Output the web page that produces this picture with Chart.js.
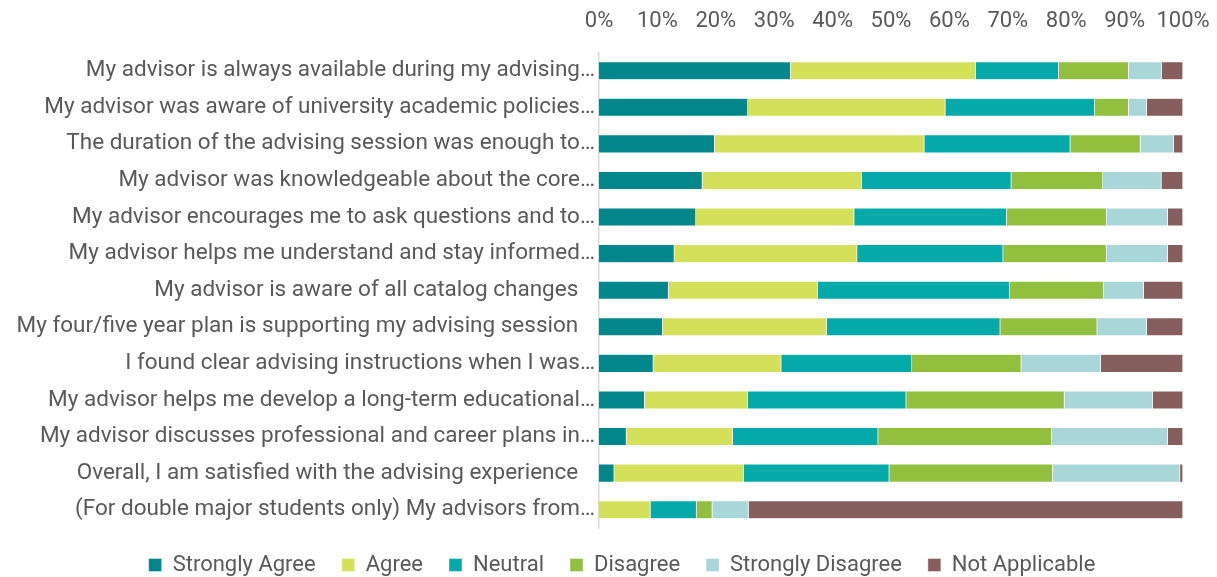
<!DOCTYPE html>
<html>
<head>
<meta charset="utf-8">
<script src="https://cdn.jsdelivr.net/npm/chart.js@4/dist/chart.umd.min.js"></script>
<style>
  html, body { margin: 0; padding: 0; background: #fff; }
  #wrap { width: 1217px; height: 577px; }
</style>
</head>
<body>
<div id="wrap"><canvas id="chart" width="1217" height="577"></canvas></div>
<script>
// survey statements (truncated as in the original)
const questions = [
  'My advisor is always available during my advising…',
  'My advisor was aware of university academic policies…',
  'The duration of the advising session was enough to…',
  'My advisor was knowledgeable about the core…',
  'My advisor encourages me to ask questions and to…',
  'My advisor helps me understand and stay informed…',
  'My advisor is aware of all catalog changes   ',
  'My four/five year plan is supporting my advising session   ',
  'I found clear advising instructions when I was…',
  'My advisor helps me develop a long-term educational…',
  'My advisor discusses professional and career plans in…',
  'Overall, I am satisfied with the advising experience   ',
  '(For double major students only) My advisors from…'
];

// percent of responses per answer
const stronglyAgree    = [32.8, 25.5, 19.8, 17.7, 16.6, 12.9, 11.9, 10.9,  9.3,  7.8,  4.7,  2.6,  0.0];
const agree            = [31.7, 33.8, 35.9, 27.3, 27.1, 31.3, 25.6, 28.1, 21.9, 17.7, 18.2, 22.2,  8.8];
const neutral          = [14.2, 25.6, 25.0, 25.6, 26.1, 25.0, 32.8, 29.7, 22.4, 27.1, 24.9, 24.9,  7.9];
const disagree         = [12.0,  5.8, 12.0, 15.7, 17.1, 17.7, 16.1, 16.6, 18.7, 27.1, 29.7, 28.0,  2.7];
const stronglyDisagree = [ 5.7,  3.1,  5.7, 10.0, 10.5, 10.5,  6.9,  8.5, 13.6, 15.1, 19.9, 21.8,  6.2];
const notApplicable    = [ 3.6,  6.2,  1.6,  3.7,  2.6,  2.6,  6.7,  6.2, 14.1,  5.2,  2.6,  0.5, 74.4];

const seriesNames = ['Strongly Agree', 'Agree', 'Neutral', 'Disagree', 'Strongly Disagree', 'Not Applicable'];
const seriesData = [stronglyAgree, agree, neutral, disagree, stronglyDisagree, notApplicable];
const seriesColors = ['#00868b', '#d4e05a', '#04aaaa', '#93bf3e', '#a9d6d8', '#875e5e'];

const FONT = '"Roboto", "Liberation Sans", sans-serif';
const TXT = '#595959';

// legend in the original sits a bit right of centre
const nudgeLegend = {
  id: 'nudgeLegend',
  afterLayout(chart) { if (chart.legend) chart.legend.left += 31; }
};

new Chart(document.getElementById('chart'), {
  type: 'bar',
  data: {
    labels: questions,
    datasets: seriesNames.map((name, i) => ({
      label: name,
      data: seriesData[i],
      backgroundColor: seriesColors[i],
      borderColor: 'rgba(255,255,255,0.7)',
      borderWidth: 0.6,
      categoryPercentage: 1,
      barPercentage: 0.5
    }))
  },
  options: {
    indexAxis: 'y',
    responsive: false,
    animation: false,
    layout: { padding: { top: -10, right: 8, left: 4, bottom: -9 } },
    scales: {
      x: {
        position: 'top',
        stacked: true,
        min: 0, max: 100,
        ticks: {
          stepSize: 10, color: TXT, font: { family: FONT, size: 22 },
          callback: v => v + '%', padding: 18,
          maxRotation: 0, minRotation: 0, autoSkip: false
        },
        grid: { display: false, drawTicks: false },
        border: { display: false },
        // tick padding would otherwise also widen the right margin
        afterFit: s => { s.paddingRight = 34; }
      },
      y: {
        stacked: true,
        ticks: { color: TXT, font: { family: FONT, size: 22.5 }, padding: 4, autoSkip: false },
        grid: { display: false, drawTicks: false },
        border: { color: '#d9d9d9', width: 1.5 },
        afterFit: s => { s.width = 595; }
      }
    },
    plugins: {
      legend: {
        position: 'bottom',
        labels: {
          color: TXT,
          font: { family: FONT, size: 22 },
          boxWidth: 13, boxHeight: 13,
          padding: 26
        }
      },
      tooltip: { enabled: false }
    }
  },
  plugins: [nudgeLegend]
});
</script>
</body>
</html>
